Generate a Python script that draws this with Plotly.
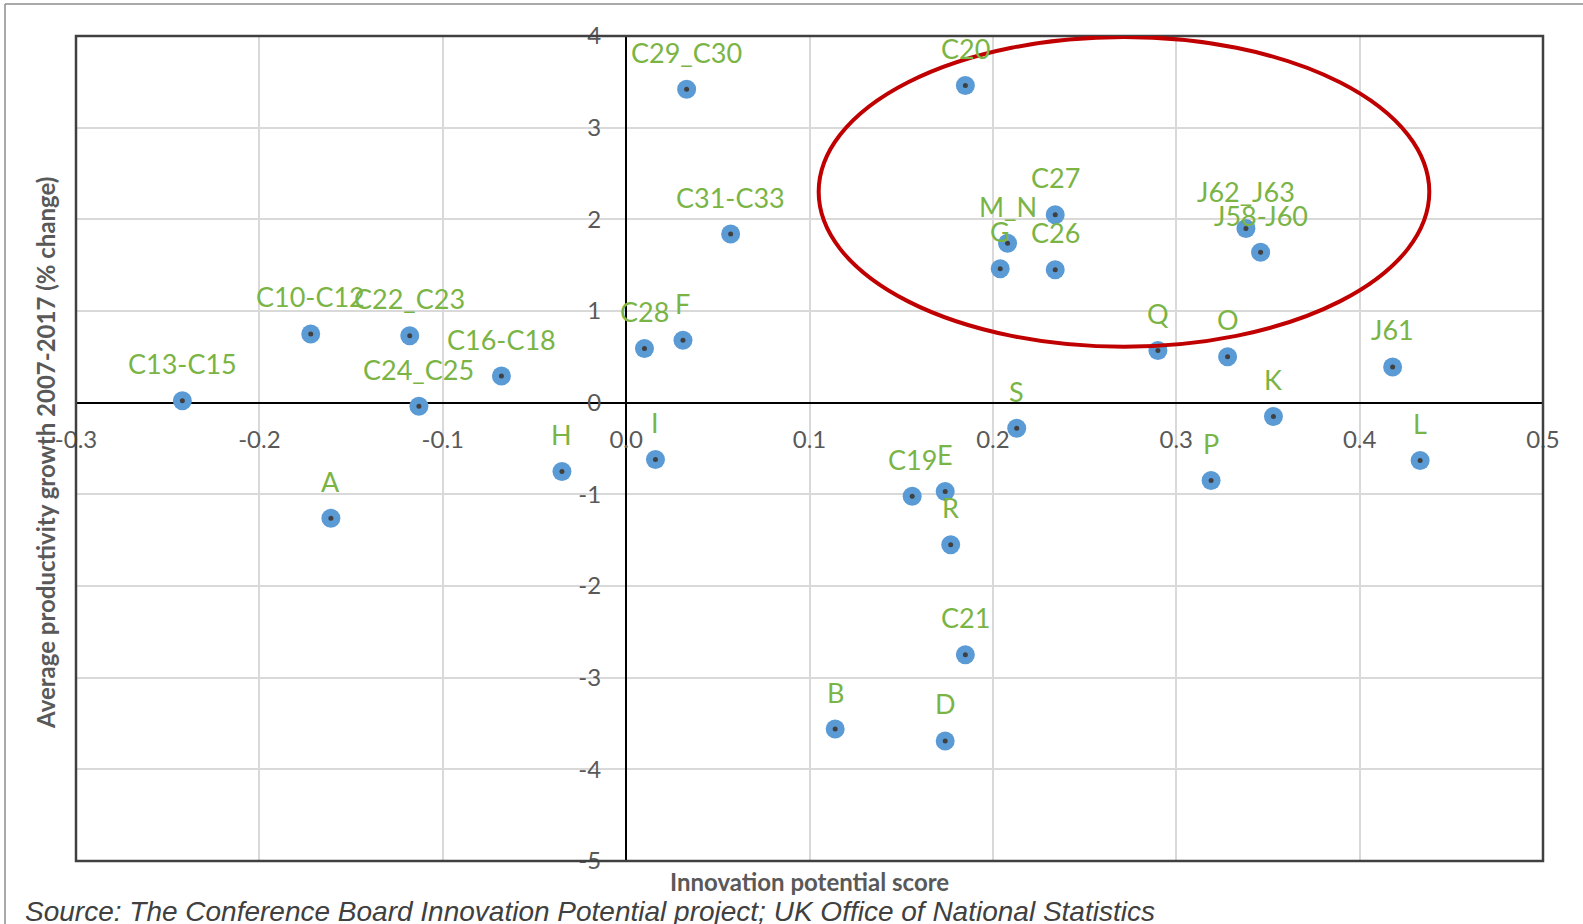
import plotly.graph_objects as go

# Sector data: innovation potential score vs productivity growth 2007-2017
sectors = [
    "C13-C15", "C10-C12", "C22_C23", "C24_C25", "C16-C18", "A", "H",
    "C28", "F", "I", "C29_C30", "C31-C33", "B", "C19", "E", "R", "D",
    "C21", "C20", "S", "M_N", "G", "C27", "C26", "Q", "O", "P", "K",
    "J62_J63", "J58-J60", "J61", "L",
]
innovation_score = [
    -0.242, -0.172, -0.118, -0.113, -0.068, -0.161, -0.035,
    0.010, 0.031, 0.016, 0.033, 0.057, 0.114, 0.156, 0.174, 0.177, 0.174,
    0.185, 0.185, 0.213, 0.208, 0.204, 0.234, 0.234, 0.290, 0.328, 0.319, 0.353,
    0.338, 0.346, 0.418, 0.433,
]
productivity_growth = [
    0.02, 0.75, 0.73, -0.04, 0.29, -1.26, -0.75,
    0.59, 0.68, -0.62, 3.42, 1.84, -3.56, -1.02, -0.97, -1.55, -3.69,
    -2.75, 3.46, -0.28, 1.74, 1.46, 2.05, 1.45, 0.57, 0.50, -0.85, -0.15,
    1.90, 1.64, 0.39, -0.63,
]

x_ticks = [-0.3, -0.2, -0.1, 0.0, 0.1, 0.2, 0.3, 0.4, 0.5]
x_tick_text = ["-0.3", "-0.2", "-0.1", "0.0", "0.1", "0.2", "0.3", "0.4", "0.5"]
y_ticks = [-5, -4, -3, -2, -1, 0, 1, 2, 3, 4]
y_tick_text = ["-5", "-4", "-3", "-2", "-1", "0", "1", "2", "3", "4"]

# highlighted cluster (red ellipse), data coordinates
ellipse_x = [0.105, 0.438]
ellipse_y = [0.61, 3.99]

LABEL_GREEN = "#7AB445"
AXIS_GRAY = "#595959"
FONT = "Lato"

W, H = 1583, 924
M_L, M_R, M_T, M_B = 76, 40, 36, 63
plot_w = W - M_L - M_R
plot_h = H - M_T - M_B


def px_to_paper_x(px):
    return (px - M_L) / plot_w


def px_to_paper_y(py):
    return (H - M_B - py) / plot_h


fig = go.Figure()

fig.add_trace(go.Scatter(
    x=innovation_score,
    y=productivity_growth,
    mode="markers",
    marker=dict(size=19, color="#5B9BD5", line=dict(width=0)),
    hoverinfo="skip",
    showlegend=False,
))
# dark centre dot of each marker
fig.add_trace(go.Scatter(
    x=innovation_score,
    y=productivity_growth,
    mode="markers",
    marker=dict(size=5, color="#404040", line=dict(width=0)),
    text=sectors,
    hoverinfo="text",
    showlegend=False,
))

# data labels above the points
for name, xv, yv in zip(sectors, innovation_score, productivity_growth):
    fig.add_annotation(
        x=xv, y=yv, xref="x", yref="y",
        text=name, showarrow=False, yshift=37,
        font=dict(family=FONT, size=27, color=LABEL_GREEN),
    )

x_zero_pos = (0 - y_ticks[0]) / (y_ticks[-1] - y_ticks[0])
y_zero_pos = (0 - x_ticks[0]) / (x_ticks[-1] - x_ticks[0])

fig.update_xaxes(
    range=[x_ticks[0], x_ticks[-1]],
    tickvals=x_ticks, ticktext=x_tick_text,
    showgrid=True, gridcolor="#D9D9D9", gridwidth=1.5,
    zeroline=True, zerolinecolor="#000000", zerolinewidth=2,
    showline=False, ticks="",
    anchor="free", position=x_zero_pos,
    ticklabelstandoff=20,
    tickfont=dict(family=FONT, size=24, color=AXIS_GRAY),
    automargin=False,
)
fig.update_yaxes(
    range=[y_ticks[0], y_ticks[-1]],
    tickvals=y_ticks, ticktext=y_tick_text,
    showgrid=True, gridcolor="#D9D9D9", gridwidth=1.5,
    zeroline=True, zerolinecolor="#000000", zerolinewidth=2,
    showline=False, ticks="",
    anchor="free", position=y_zero_pos,
    ticklabelstandoff=25,
    tickfont=dict(family=FONT, size=24, color=AXIS_GRAY),
    automargin=False,
)

shapes = [
    # plot-area frame
    dict(type="rect", xref="paper", yref="paper", x0=0, x1=1, y0=0, y1=1,
         line=dict(color="#404040", width=2.5), layer="above"),
    # outer chart border (left and top)
    dict(type="line", xref="paper", yref="paper",
         x0=px_to_paper_x(5), x1=px_to_paper_x(5),
         y0=px_to_paper_y(4), y1=px_to_paper_y(H + 5),
         line=dict(color="#8C8C8C", width=1.5)),
    dict(type="line", xref="paper", yref="paper",
         x0=px_to_paper_x(5), x1=px_to_paper_x(W + 5),
         y0=px_to_paper_y(4), y1=px_to_paper_y(4),
         line=dict(color="#8C8C8C", width=1.5)),
    # red ellipse around the high-potential cluster
    dict(type="circle", xref="x", yref="y",
         x0=ellipse_x[0], x1=ellipse_x[1], y0=ellipse_y[0], y1=ellipse_y[1],
         line=dict(color="#C00000", width=4), layer="above"),
]

annotations_extra = [
    dict(text="Innovation potential score", xref="paper", yref="paper",
         x=px_to_paper_x(809), y=px_to_paper_y(881), showarrow=False,
         xanchor="center", yanchor="middle",
         font=dict(family=FONT, size=24, color=AXIS_GRAY, weight="bold")),
    dict(text="Average productivity growth 2007-2017 (% change)",
         xref="paper", yref="paper", textangle=-90,
         x=px_to_paper_x(46), y=px_to_paper_y(453), showarrow=False,
         xanchor="center", yanchor="middle",
         font=dict(family=FONT, size=24, color=AXIS_GRAY, weight="bold")),
    dict(text="<i>Source: The Conference Board Innovation Potential project; "
              "UK Office of National Statistics</i>",
         xref="paper", yref="paper",
         x=px_to_paper_x(23), y=px_to_paper_y(911), showarrow=False,
         xanchor="left", yanchor="middle",
         font=dict(family="Liberation Sans", size=28, color="#404040")),
]
for a in annotations_extra:
    fig.add_annotation(**a)

fig.update_layout(
    width=W, height=H,
    margin=dict(l=M_L, r=M_R, t=M_T, b=M_B, autoexpand=False),
    paper_bgcolor="white",
    plot_bgcolor="white",
    shapes=shapes,
    showlegend=False,
)

# drop the default page margin so the figure sits at the window's corner
fig.write_html(
    "out.html",
    config={"displayModeBar": False},
    post_script="document.body.style.margin='0';",
)
